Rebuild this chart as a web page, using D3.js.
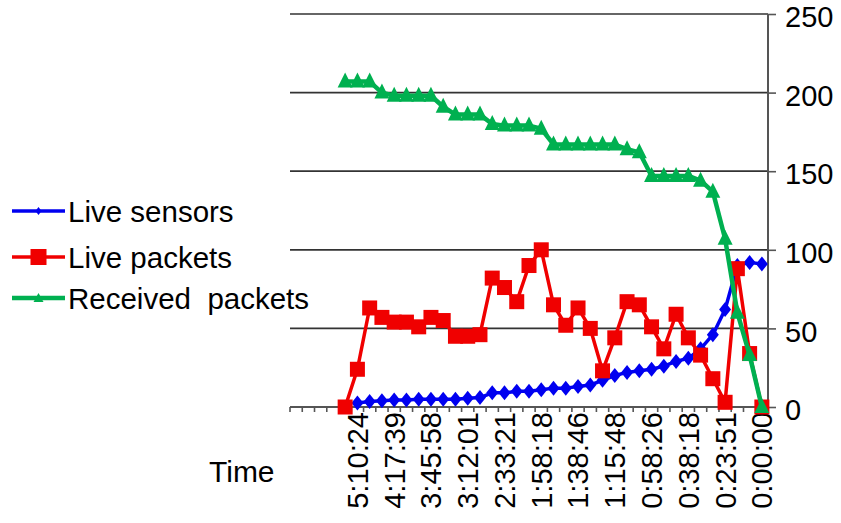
<!DOCTYPE html>
<html>
<head>
<meta charset="utf-8">
<script src="https://cdn.jsdelivr.net/npm/d3@7"></script>
<style>
  html, body { margin: 0; padding: 0; background: #fff; }
  svg { display: block; }
  text { font-family: Arial, "Liberation Sans", sans-serif; fill: #000; }
</style>
</head>
<body>
<svg id="chart" width="841" height="523"></svg>
<script>
// ---- data ----
const categories = [
  "", "", "", "", "",
  "5:10:24", "", "", "4:17:39", "", "", "3:45:58", "", "", "3:12:01", "", "",
  "2:33:21", "", "", "1:58:18", "", "", "1:38:46", "", "", "1:15:48", "", "",
  "0:58:26", "", "", "0:38:18", "", "", "0:23:51", "", "", "0:00:00"
];
const yTicks = [0, 50, 100, 150, 200, 250];
const seriesNames = ["Live sensors", "Live packets", "Received  packets"];

const liveSensors = [
  null, null, null, null, null,
  2.5, 3.5, 4, 4.5, 4.5, 5, 5, 5, 5, 5.5, 6, 9, 9, 10, 10, 11, 12,
  12, 13, 14, 17, 20, 22, 23, 24, 26, 29, 31, 37, 46, 62, 90, 92, 91
];
const livePackets = [
  null, null, null, null,
  0, 24, 63, 57, 54, 54, 51, 57, 55, 45, 45, 46, 82, 76, 67, 90, 100, 65,
  52, 63, 50, 23, 44, 67, 65, 51, 37, 59, 44, 33, 18, 3, 88, 34, 0
];
const receivedPackets = [
  null, null, null, null,
  207, 207, 207, 200, 198, 198, 198, 198, 191, 186, 186, 186, 180, 179, 179,
  179, 177, 167, 167, 167, 167, 167, 167, 164, 162, 147, 147, 147, 147, 144,
  137, 107, 60, 33, 0
];

// ---- layout ----
const svg = d3.select("#chart");
const plotL = 290, plotR = 768, plotT = 14, plotB = 407;

const x = d3.scaleBand()
  .domain(d3.range(categories.length))
  .range([plotL, plotR])
  .paddingInner(0).paddingOuter(0);
const bw = x.bandwidth();
const cx = i => x(i) + bw / 2;

const y = d3.scaleLinear().domain([0, 250]).range([plotB, plotT]);

// gridlines
svg.append("g")
  .selectAll("line")
  .data(yTicks.filter(d => d > 0))
  .join("line")
  .attr("x1", plotL).attr("x2", plotR)
  .attr("y1", d => y(d)).attr("y2", d => y(d))
  .attr("stroke", "#333").attr("stroke-width", 1.7);

// y axis (right)
const yAxis = d3.axisRight(y).tickValues(yTicks).tickSize(8).tickPadding(10);
const gy = svg.append("g").attr("transform", `translate(${plotR},0)`).call(yAxis);
gy.select(".domain").attr("stroke", "#555").attr("stroke-width", 2).attr("d", `M0,${plotT}V${plotB}`);
gy.selectAll(".tick line").attr("stroke", "#555").attr("stroke-width", 1.6);
gy.selectAll(".tick text")
  .attr("font-size", 29)
  .attr("font-family", "Arial, 'Liberation Sans', sans-serif")
  .attr("fill", "#000")
  .attr("x", 17)
  .attr("dy", "0.44em");

// x axis
const gx = svg.append("g");
gx.append("line")
  .attr("x1", plotL).attr("x2", plotR)
  .attr("y1", y(0)).attr("y2", y(0))
  .attr("stroke", "#555").attr("stroke-width", 2);
gx.selectAll("line.tk")
  .data(d3.range(categories.length + 1))
  .join("line")
  .attr("class", "tk")
  .attr("x1", i => plotL + i * bw).attr("x2", i => plotL + i * bw)
  .attr("y1", y(0)).attr("y2", y(0) + 5)
  .attr("stroke", "#555").attr("stroke-width", 1.6);
gx.selectAll("text.xl")
  .data(categories.map((c, i) => ({c, i})).filter(d => d.c !== ""))
  .join("text")
  .attr("class", "xl")
  .attr("transform", d => `translate(${cx(d.i)},${y(0) + 5}) rotate(-90)`)
  .attr("text-anchor", "end")
  .attr("dy", "0.36em")
  .attr("font-size", 29)
  .text(d => d.c);

svg.append("text")
  .attr("x", 209).attr("y", 482)
  .attr("font-size", 30)
  .text("Time");

// ---- series ----
const colors = ["#0000f0", "#f00000", "#00b050"];
const widths = [3.5, 3.5, 4.5];
const seriesData = [liveSensors, livePackets, receivedPackets];

const line = d3.line()
  .defined(d => d.v !== null)
  .x(d => cx(d.i))
  .y(d => y(d.v));

function marker(g, type, color) {
  if (type === 0) {
    g.append("path").attr("d", "M0,-7.5L6,0L0,7.5L-6,0Z").attr("fill", color);
  } else if (type === 1) {
    g.append("rect").attr("x", -7.5).attr("y", -7.5).attr("width", 15).attr("height", 15).attr("fill", color);
  } else {
    g.append("path").attr("d", "M0,-9L7.5,6L-7.5,6Z").attr("fill", color);
  }
}

seriesData.forEach((arr, s) => {
  const pts = arr.map((v, i) => ({v, i}));
  const g = svg.append("g");
  g.append("path")
    .datum(pts)
    .attr("fill", "none")
    .attr("stroke", colors[s])
    .attr("stroke-width", widths[s])
    .attr("stroke-linejoin", "round")
    .attr("d", line);
  pts.filter(d => d.v !== null).forEach(d => {
    const mg = g.append("g").attr("transform", `translate(${cx(d.i)},${y(d.v)})`);
    marker(mg, s, colors[s]);
  });
});

// ---- legend ----
const legY = [211, 257, 298];
seriesNames.forEach((name, s) => {
  const g = svg.append("g");
  g.append("line")
    .attr("x1", 12).attr("x2", 65)
    .attr("y1", legY[s]).attr("y2", legY[s])
    .attr("stroke", colors[s]).attr("stroke-width", widths[s]);
  const mg = g.append("g").attr("transform", `translate(38.5,${legY[s]})`);
  if (s === 0) mg.append("path").attr("d", "M0,-4L3,0L0,4L-3,0Z").attr("fill", colors[s]);
  else if (s === 1) mg.append("rect").attr("x", -8).attr("y", -8).attr("width", 16).attr("height", 16).attr("fill", colors[s]);
  else mg.append("path").attr("d", "M0,-5L5,4L-5,4Z").attr("fill", colors[s]);
  g.append("text")
    .attr("x", 68).attr("y", legY[s])
    .attr("dy", "0.36em")
    .attr("font-size", 29.5)
    .style("white-space", "pre")
    .text(name);
});
</script>
</body>
</html>
